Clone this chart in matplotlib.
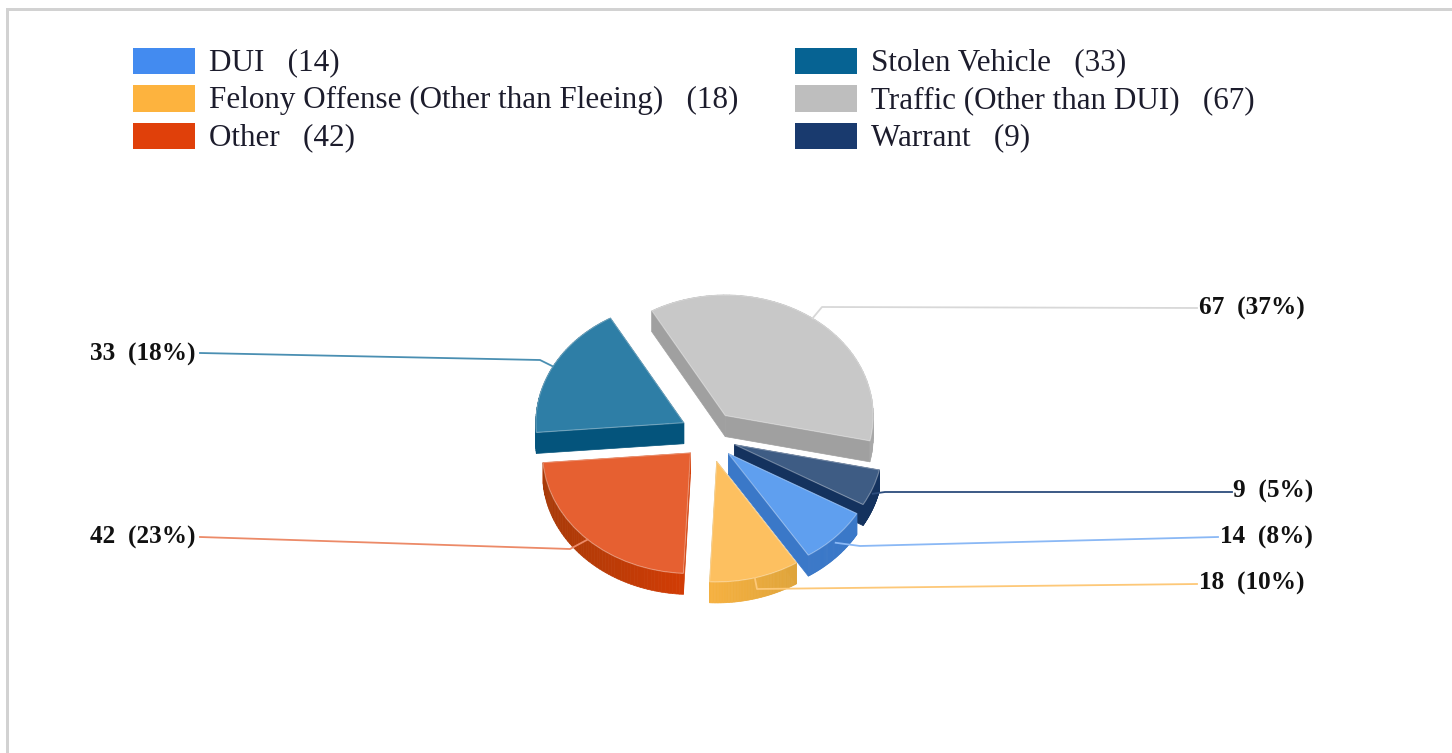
import numpy as np
import matplotlib.pyplot as plt
from matplotlib.colors import to_rgb
from matplotlib.patches import Rectangle

# data, clockwise around the pie
names = ["DUI", "Felony Offense (Other than Fleeing)", "Other", "Stolen Vehicle", "Traffic (Other than DUI)", "Warrant"]
counts = [14, 18, 42, 33, 67, 9]

# colours
legend_colors = ["#438bf0", "#fdb33e", "#e0400a", "#066393", "#bebebe", "#193a6e"]
top_colors = ["#5f9fef", "#fdc060", "#e66031", "#2e7ea6", "#c8c8c8", "#3e5c84"]
wall_left = ["#3a78c8", "#f6b140", "#a83a08", "#04547c", "#a0a0a0", "#14325e"]
wall_right = ["#3a78c8", "#dfa43a", "#d23c05", "#04547c", "#a8a8a8", "#14325e"]
line_colors = ["#8ab8f5", "#fdc878", "#ec8a68", "#4a8fb2", "#d8d8d8", "#2c4c7c"]
explode = [0.2, 0.2, 0.16, 0.2, 0.22, 0.2]

# layout in picture pixels
W, H = 1452, 753
CX, CY, R, SQUASH = 706, 438, 148, 0.815
DEPTH = 21
START = 330.2
nudges = [(1, -1), (3, 0), (1, 1), (4, -4), (0, -1), (1, -2)]
elbows = [(860, 546), (757, 589), (570, 549), (540, 360), (822, 307), (885, 492)]
line_ends = [(1218, 537), (1197, 584), (200, 537), (200, 353), (1197, 308), (1232, 492)]
label_pos = [(1220, 537.5), (1199, 583.5), (196, 537.5), (196, 354.5), (1199, 308.5), (1233, 491.5)]
anchor_drop = [6, 0, 0, 0, 0, 6]
draw_order = [4, 3, 5, 2, 0, 1]


def px(x):
    return (x - CX) / R


def py(y):
    return (CY - y) / (R * SQUASH)


plt.rcParams["font.family"] = ["Liberation Serif", "DejaVu Serif"]

fig = plt.figure(figsize=(W / 100, H / 100), dpi=100)
ax = fig.add_axes([0, 0, 1, 1])
wedges, _ = ax.pie(counts, colors=top_colors, explode=explode, startangle=START, counterclock=False,
                   wedgeprops=dict(linewidth=0.8, edgecolor="#ffffff55"))
ax.set_aspect("auto")
ax.set_xlim(px(0), px(W))
ax.set_ylim(py(H), py(0))
ax.axis("off")

for w, (nx, ny) in zip(wedges, nudges):
    w.set_center((w.center[0] + nx / R, w.center[1] - ny / (R * SQUASH)))

dz = DEPTH / (R * SQUASH)
z = 2
for i in draw_order:
    w = wedges[i]
    cx, cy = w.center
    a = np.radians(np.linspace(w.theta1, w.theta2, 60))
    xs = cx + np.cos(a)
    ys = cy + np.sin(a)
    c0 = np.array(to_rgb(wall_left[i]))
    c1 = np.array(to_rgb(wall_right[i]))
    # straight sides
    for ex, ey in [(xs[0], ys[0]), (xs[-1], ys[-1])]:
        ax.fill([cx, ex, ex, cx], [cy, ey, ey - dz, cy - dz], color=wall_left[i] if i in (4, 0, 3, 5) else c1,
                lw=0.5, zorder=z)
    # outer wall, shaded from left to right
    span = xs.max() - xs.min()
    for k in range(len(a) - 1):
        t = (xs[k] - xs.min()) / span
        ax.fill([xs[k], xs[k + 1], xs[k + 1], xs[k]], [ys[k], ys[k + 1], ys[k + 1] - dz, ys[k] - dz],
                color=c0 + (c1 - c0) * t, lw=0.5, zorder=z)
    w.set_zorder(z + 0.5)
    z += 1

# leader lines and value labels
total = sum(counts)
for i, w in enumerate(wedges):
    mid = np.radians((w.theta1 + w.theta2) / 2)
    ax_x = w.center[0] + np.cos(mid)
    ax_y = w.center[1] + np.sin(mid) - anchor_drop[i] / (R * SQUASH)
    ax.plot([ax_x, px(elbows[i][0]), px(line_ends[i][0])], [ax_y, py(elbows[i][1]), py(line_ends[i][1])],
            color=line_colors[i], lw=1.3, zorder=20, solid_joinstyle="round")
    left_side = line_ends[i][0] < CX
    ax.text(px(label_pos[i][0]), py(label_pos[i][1]), f"{counts[i]}  ({round(counts[i] / total * 100)}%)",
            ha="right" if left_side else "left", va="center", fontsize=18.2, fontweight="bold",
            color="#111111", zorder=21)

# legend
for i, name in enumerate(names):
    col = i // 3
    row = i % 3
    x0 = 133 + col * 662
    y0 = 48 + row * 37.5
    ax.add_patch(Rectangle((px(x0), py(y0 + 26)), 62 / R, 26 / (R * SQUASH), color=legend_colors[i], lw=0))
    ax.text(px(x0 + 76), py(y0 + 15), f"{name}   ({counts[i]})", ha="left", va="center",
            fontsize=22.4, color="#1c1c2c")

# frame of the page around the chart
ax.add_patch(Rectangle((px(6), py(H)), 3 / R, (H - 8) / (R * SQUASH), color="#d2d2d2", lw=0))
ax.add_patch(Rectangle((px(6), py(11)), (W - 6) / R, 3 / (R * SQUASH), color="#d2d2d2", lw=0))

fig.savefig("out.png", dpi=100)
